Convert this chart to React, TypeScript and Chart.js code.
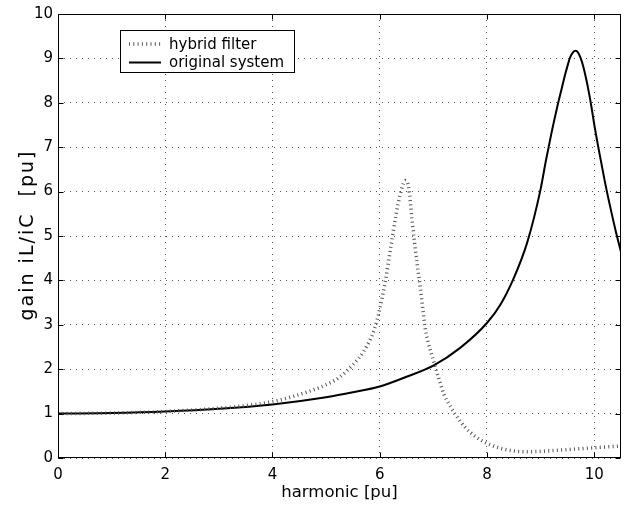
import React, { useEffect, useRef } from 'react';
import { Chart, registerables } from 'chart.js';

Chart.register(...registerables);

// ---- data ----
const seriesLabels = ['hybrid filter', 'original system'];

const hybHarmonic = [0, 1, 2, 3, 3.5, 4, 4.5, 5, 5.25, 5.5, 5.7, 5.9, 6.0, 6.1, 6.2, 6.3, 6.4, 6.48, 6.54, 6.6, 6.65, 6.7, 6.75, 6.8, 6.85, 6.9, 7.0, 7.1, 7.2, 7.3, 7.4, 7.6, 7.8, 8.0, 8.25, 8.5, 8.75, 9.0, 9.5, 10.0, 10.5];
const hybGain = [1.0, 1.012, 1.048, 1.12, 1.18, 1.27, 1.43, 1.65, 1.82, 2.1, 2.4, 2.9, 3.35, 3.95, 4.7, 5.45, 6.02, 6.25, 6.1, 5.4, 4.85, 4.35, 3.9, 3.4, 2.9, 2.62, 2.2, 1.8, 1.43, 1.2, 1.0, 0.68, 0.47, 0.33, 0.22, 0.16, 0.14, 0.15, 0.19, 0.23, 0.27];

const origHarmonic = [0, 1, 2, 3, 4, 5, 5.5, 6, 6.5, 7, 7.5, 8, 8.25, 8.5, 8.75, 9, 9.1, 9.2, 9.3, 9.4, 9.45, 9.5, 9.55, 9.6, 9.65, 9.7, 9.75, 9.8, 9.85, 9.9, 9.95, 10, 10.1, 10.2, 10.3, 10.4, 10.5];
const origGain = [1.0, 1.011, 1.045, 1.107, 1.207, 1.37, 1.48, 1.61, 1.83, 2.08, 2.48, 3.04, 3.45, 4.05, 4.85, 6.05, 6.7, 7.3, 7.85, 8.35, 8.6, 8.82, 9.02, 9.13, 9.17, 9.13, 9.0, 8.8, 8.54, 8.24, 7.9, 7.52, 6.85, 6.22, 5.65, 5.12, 4.64];

const xTitle = 'harmonic [pu]';
const yTitle = 'gain iL/iC  [pu]';
const xMin = 0, xMax = 10.5, xStep = 2;
const yMin = 0, yMax = 10, yStep = 1;

const FONT = '"DejaVu Sans", "Liberation Sans", Arial, sans-serif';
const HYB_COLOR = '#555555';
const HYB_DASH = [1, 3.3];

const framePlugin = {
  id: 'frame',
  afterDatasetsDraw(chart: any) {
    const { ctx, chartArea } = chart;
    const l = Math.round(chartArea.left) + 0.5;
    const r = Math.round(chartArea.right) - 0.5;
    const t = Math.round(chartArea.top) + 0.5;
    const b = Math.round(chartArea.bottom) - 0.5;
    ctx.save();
    ctx.strokeStyle = '#000';
    ctx.lineWidth = 1;
    ctx.setLineDash([]);
    ctx.strokeRect(l, t, r - l, b - t);
    const tl = 5;
    ctx.beginPath();
    const xs = chart.scales.x;
    xs.ticks.forEach((tk: any) => {
      const p = Math.round(xs.getPixelForValue(tk.value)) + 0.5;
      ctx.moveTo(p, b); ctx.lineTo(p, b - tl);
      ctx.moveTo(p, t); ctx.lineTo(p, t + tl);
    });
    const ys = chart.scales.y;
    ys.ticks.forEach((tk: any) => {
      const p = Math.round(ys.getPixelForValue(tk.value)) + 0.5;
      ctx.moveTo(l, p); ctx.lineTo(l + tl, p);
      ctx.moveTo(r, p); ctx.lineTo(r - tl, p);
    });
    ctx.stroke();
    ctx.restore();
  },
  afterDraw(chart: any) {
    const { ctx, chartArea } = chart;
    ctx.save();
    // y axis title (rotated)
    ctx.save();
    ctx.translate(33, (chartArea.top + chartArea.bottom) / 2);
    ctx.rotate(-Math.PI / 2);
    ctx.font = '19px ' + FONT;
    (ctx as any).letterSpacing = '2px';
    ctx.fillStyle = '#000';
    ctx.textAlign = 'center';
    ctx.textBaseline = 'alphabetic';
    ctx.fillText(yTitle, 1, 0);
    ctx.restore();

    // legend
    const bx = 120.5, by = 30.5, bw = 174, bh = 42;
    ctx.fillStyle = '#fff';
    ctx.fillRect(bx, by, bw, bh);
    ctx.strokeStyle = '#000';
    ctx.lineWidth = 1;
    ctx.strokeRect(bx, by, bw, bh);
    ctx.beginPath();
    ctx.setLineDash(HYB_DASH);
    ctx.lineWidth = 3.5;
    ctx.strokeStyle = HYB_COLOR;
    ctx.moveTo(129, 44);
    ctx.lineTo(161, 44);
    ctx.stroke();
    ctx.beginPath();
    ctx.setLineDash([]);
    ctx.lineWidth = 2;
    ctx.strokeStyle = '#000';
    ctx.moveTo(129, 62.5);
    ctx.lineTo(161, 62.5);
    ctx.stroke();
    ctx.fillStyle = '#000';
    ctx.font = '15px ' + FONT;
    ctx.textBaseline = 'alphabetic';
    ctx.textAlign = 'left';
    ctx.fillText(seriesLabels[0], 169, 48.5);
    ctx.fillText(seriesLabels[1], 169, 67);
    ctx.restore();
  },
};

export default function App() {
  const ref = useRef<HTMLCanvasElement>(null);
  useEffect(() => {
    document.body.style.margin = '0';
    const canvas = ref.current!;
    const chart = new Chart(canvas, {
      type: 'line',
      data: {
        datasets: [
          {
            label: seriesLabels[0],
            data: hybHarmonic.map((h, i) => ({ x: h, y: hybGain[i] })),
            borderColor: HYB_COLOR,
            borderWidth: 3.5,
            borderDash: HYB_DASH,
            borderCapStyle: 'butt',
            pointRadius: 0,
            fill: false,
            cubicInterpolationMode: 'monotone',
          },
          {
            label: seriesLabels[1],
            data: origHarmonic.map((h, i) => ({ x: h, y: origGain[i] })),
            borderColor: '#000',
            borderWidth: 2,
            pointRadius: 0,
            fill: false,
            cubicInterpolationMode: 'monotone',
          },
        ],
      },
      options: {
        responsive: false,
        animation: false,
        devicePixelRatio: 1,
        layout: { padding: { left: 0, right: 7, top: 14, bottom: 0 } },
        plugins: { legend: { display: false }, tooltip: { enabled: false } },
        scales: {
          x: {
            type: 'linear',
            min: xMin,
            max: xMax,
            afterFit: (s: any) => { s.height = 48; },
            ticks: {
              stepSize: xStep,
              includeBounds: false,
              color: '#000',
              padding: 8,
              maxRotation: 0,
              font: { family: FONT, size: 15 },
            },
            grid: { color: '#555', lineWidth: 1, drawTicks: false },
            border: { display: false, dash: [1, 5] },
            title: {
              display: true,
              text: xTitle,
              color: '#000',
              font: { family: FONT, size: 16.5 },
              padding: { top: 0, bottom: 3.8 },
            },
          },
          y: {
            type: 'linear',
            min: yMin,
            max: yMax,
            afterFit: (s: any) => { s.width = 58; },
            ticks: {
              stepSize: yStep,
              color: '#000',
              padding: 5,
              font: { family: FONT, size: 15 },
            },
            grid: { color: '#555', lineWidth: 1, drawTicks: false },
            border: { display: false, dash: [1, 5] },
            title: { display: false },
          },
        },
      },
      plugins: [framePlugin],
    });
    return () => chart.destroy();
  }, []);
  return (
    <div style={{ width: 628, height: 506 }}>
      <canvas ref={ref} width={628} height={506} style={{ display: 'block' }} />
    </div>
  );
}
